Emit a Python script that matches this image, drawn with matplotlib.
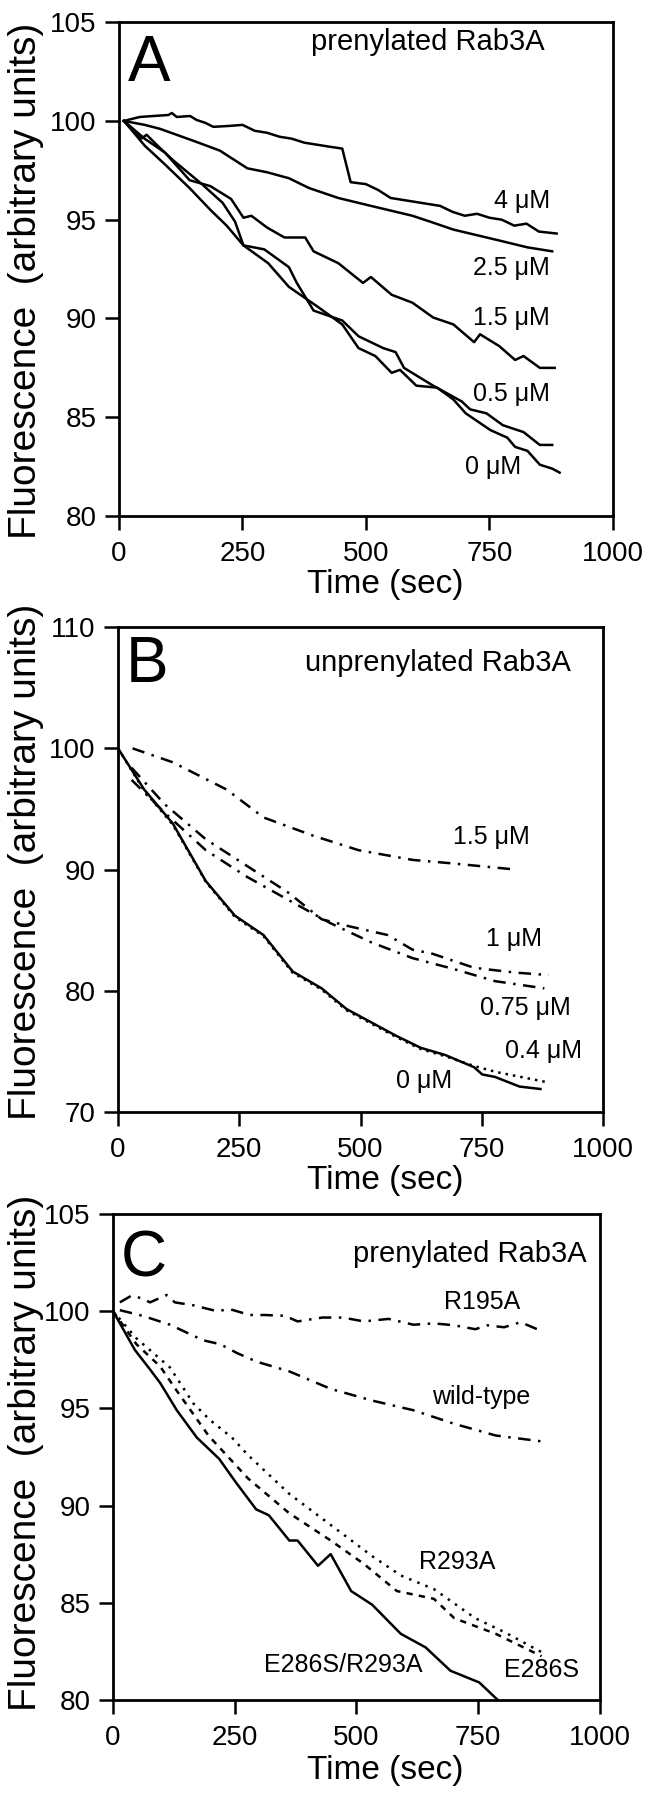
import matplotlib
matplotlib.use('Agg')
import matplotlib.pyplot as plt

plt.rcParams['font.family'] = ['Liberation Sans', 'DejaVu Sans']

# ---------------- Panel A: prenylated Rab3A ----------------
a_t_4 = [10, 42, 70, 100, 107, 117, 144, 157, 175, 191, 225, 250, 275, 300, 325, 350, 375, 400, 425, 452,
         469, 500, 525, 550, 575, 600, 625, 650, 675, 700, 725, 750, 775, 800, 825, 850, 886]
a_v_4 = [100.0, 100.2, 100.25, 100.3, 100.4, 100.2, 100.25, 100.05, 99.9, 99.7, 99.75, 99.8, 99.5, 99.4,
         99.2, 99.1, 98.9, 98.8, 98.7, 98.6, 96.9, 96.8, 96.5, 96.1, 96.0, 95.9, 95.8, 95.7, 95.4, 95.2,
         95.3, 95.1, 95.0, 94.7, 94.8, 94.4, 94.3]
a_t_25 = [10, 52, 83, 150, 204, 260, 300, 344, 385, 444, 510, 552, 594, 636, 677, 719, 761, 794, 827, 877]
a_v_25 = [100.0, 99.8, 99.6, 99.0, 98.5, 97.6, 97.4, 97.1, 96.6, 96.1, 95.7, 95.45, 95.2, 94.85, 94.5,
          94.25, 94.0, 93.8, 93.6, 93.4]
a_t_15 = [10, 52, 93, 143, 185, 227, 252, 268, 300, 335, 377, 394, 444, 494, 510, 552, 594, 636, 677,
          719, 731, 770, 802, 819, 852, 882]
a_v_15 = [100.0, 99.1, 98.4, 97.0, 96.7, 96.05, 95.1, 95.2, 94.6, 94.1, 94.1, 93.4, 92.8, 91.8, 92.1,
          91.2, 90.8, 90.05, 89.7, 88.8, 89.2, 88.6, 87.9, 88.1, 87.5, 87.5]
a_t_05 = [10, 45, 56, 80, 110, 168, 210, 235, 252, 294, 344, 360, 394, 452, 485, 535, 560, 577, 636,
          694, 711, 744, 777, 819, 852, 877]
a_v_05 = [100.0, 99.1, 99.3, 98.7, 98.0, 96.8, 95.85, 94.9, 93.7, 93.5, 92.6, 91.8, 90.4, 89.9, 89.1,
          88.5, 88.3, 87.5, 86.6, 85.8, 85.4, 85.2, 84.6, 84.25, 83.6, 83.6]
a_t_0 = [10, 52, 93, 143, 185, 218, 252, 302, 344, 402, 452, 485, 519, 552, 569, 602, 644, 677, 702,
         752, 786, 802, 827, 852, 877, 892]
a_v_0 = [100.0, 98.75, 97.8, 96.6, 95.5, 94.7, 93.7, 92.8, 91.6, 90.6, 89.7, 88.5, 88.1, 87.25, 87.4,
         86.6, 86.5, 85.9, 85.2, 84.35, 83.97, 83.5, 83.3, 82.6, 82.4, 82.2]

# ---------------- Panel B: unprenylated Rab3A ----------------
b_t_15 = [30, 113, 224, 300, 402, 496, 607, 692, 820]
b_v_15 = [100.0, 98.85, 96.6, 94.3, 92.8, 91.6, 90.8, 90.5, 90.0]
b_t_1 = [28, 96, 181, 266, 351, 420, 479, 556, 607, 649, 734, 820, 888]
b_v_1 = [98.4, 95.4, 92.5, 90.3, 88.1, 85.9, 85.3, 84.6, 83.4, 83.05, 81.9, 81.5, 81.3]
b_t_075 = [28, 96, 181, 266, 351, 437, 522, 607, 692, 777, 879]
b_v_075 = [97.4, 94.7, 91.6, 89.4, 87.5, 85.6, 84.0, 82.7, 81.8, 80.8, 80.2]
b_t_0 = [0, 54, 113, 181, 241, 300, 360, 420, 471, 522, 573, 624, 675, 734, 751, 777, 828, 871]
b_v_0 = [100.0, 96.6, 93.8, 89.05, 86.2, 84.6, 81.6, 80.2, 78.5, 77.4, 76.3, 75.3, 74.7, 73.7, 73.1,
         72.9, 72.1, 71.9]
b_t_04 = [0, 54, 113, 181, 241, 300, 360, 420, 471, 522, 573, 624, 675, 734, 780, 830, 880]
b_v_04 = [100.0, 96.5, 93.7, 89.0, 86.1, 84.5, 81.5, 80.1, 78.4, 77.3, 76.2, 75.2, 74.6, 73.8, 73.3,
          72.9, 72.5]

# ---------------- Panel C: mutants ----------------
c_t_r195 = [14, 38, 60, 76, 110, 127, 165, 213, 240, 281, 311, 353, 379, 430, 472, 515, 566, 617, 659,
            701, 744, 769, 803, 837, 871]
c_v_r195 = [100.45, 100.8, 100.65, 100.45, 100.83, 100.45, 100.3, 100.0, 100.1, 99.8, 99.8, 99.76, 99.47,
            99.67, 99.67, 99.47, 99.6, 99.3, 99.37, 99.27, 99.07, 99.27, 99.17, 99.43, 99.07]
c_t_wt = [14, 62, 117, 185, 220, 254, 295, 362, 447, 532, 617, 701, 744, 786, 880]
c_v_wt = [100.05, 99.75, 99.3, 98.5, 98.3, 97.85, 97.4, 96.9, 96.0, 95.4, 94.9, 94.2, 93.9, 93.6, 93.3]
c_t_r293 = [0, 48, 117, 165, 199, 244, 277, 362, 447, 532, 591, 659, 744, 803, 888]
c_v_r293 = [100.0, 98.6, 97.1, 95.25, 94.4, 93.5, 92.6, 90.6, 89.0, 87.4, 86.4, 85.7, 84.2, 83.5, 82.35]
c_t_e286 = [0, 48, 97, 131, 165, 196, 277, 362, 447, 515, 583, 659, 701, 786, 880]
c_v_e286 = [100.0, 98.3, 97.15, 95.9, 94.7, 93.6, 91.4, 89.6, 88.2, 87.0, 85.6, 85.2, 84.2, 83.4, 82.25]
c_t_dbl = [0, 45, 76, 97, 131, 172, 218, 252, 294, 320, 362, 379, 421, 447, 489, 532, 591, 642, 693,
           752, 790]
c_v_dbl = [100.0, 98.0, 97.0, 96.3, 94.9, 93.5, 92.4, 91.2, 89.8, 89.5, 88.2, 88.2, 86.9, 87.5, 85.6,
           84.9, 83.4, 82.7, 81.5, 80.9, 80.0]

x_ticks = [0, 250, 500, 750, 1000]

fig = plt.figure(figsize=(6.48, 18), dpi=100)

def style_axes(ax, ylim, yticks):
    ax.set_xlim(0, 1000)
    ax.set_ylim(*ylim)
    ax.set_xticks(x_ticks)
    ax.set_yticks(yticks)
    for s in ax.spines.values():
        s.set_linewidth(2.0)
    ax.tick_params(direction='out', length=10, width=1.8, labelsize=20)
    ax.tick_params(axis='x', pad=8)
    ax.tick_params(axis='y', pad=6)

lw = 1.8
dashdot = (0, (5, 3, 1, 3))

# Panel A
axA = fig.add_axes([0.1836, 0.7133, 0.7623, 0.2744])
style_axes(axA, (80, 105), [80, 85, 90, 95, 100, 105])
axA.plot(a_t_4, a_v_4, color='black', lw=lw)
axA.plot(a_t_25, a_v_25, color='black', lw=lw)
axA.plot(a_t_15, a_v_15, color='black', lw=lw)
axA.plot(a_t_05, a_v_05, color='black', lw=lw)
axA.plot(a_t_0, a_v_0, color='black', lw=lw)
axA.text(18, 102.0, 'A', fontsize=46, ha='left', va='baseline')
axA.text(862, 104.0, 'prenylated Rab3A', fontsize=21, ha='right', va='center')
axA.text(873, 95.95, '4 \u03bcM', fontsize=18, ha='right', va='center')
axA.text(873, 92.57, '2.5 \u03bcM', fontsize=18, ha='right', va='center')
axA.text(873, 90.05, '1.5 \u03bcM', fontsize=18, ha='right', va='center')
axA.text(873, 86.2, '0.5 \u03bcM', fontsize=18, ha='right', va='center')
axA.text(815, 82.5, '0 \u03bcM', fontsize=18, ha='right', va='center')

# Panel B
axB = fig.add_axes([0.1821, 0.3822, 0.7485, 0.2694])
style_axes(axB, (70, 110), [70, 80, 90, 100, 110])
axB.plot(b_t_0, b_v_0, color='black', lw=lw)
axB.plot(b_t_04, b_v_04, color='black', lw=lw, linestyle=(0, (1, 2)))
axB.plot(b_t_075, b_v_075, color='black', lw=lw, linestyle=dashdot)
axB.plot(b_t_1, b_v_1, color='black', lw=lw, linestyle=dashdot)
axB.plot(b_t_15, b_v_15, color='black', lw=lw, linestyle=dashdot)
axB.text(16, 105.5, 'B', fontsize=46, ha='left', va='baseline')
axB.text(934, 107.06, 'unprenylated Rab3A', fontsize=21, ha='right', va='center')
axB.text(849, 92.7, '1.5 \u03bcM', fontsize=18, ha='right', va='center')
axB.text(875, 84.3, '1 \u03bcM', fontsize=18, ha='right', va='center')
axB.text(934, 78.6, '0.75 \u03bcM', fontsize=18, ha='right', va='center')
axB.text(956, 75.0, '0.4 \u03bcM', fontsize=18, ha='right', va='center')
axB.text(630, 72.6, '0 \u03bcM', fontsize=18, ha='center', va='center')

# Panel C
axC = fig.add_axes([0.1744, 0.0556, 0.7515, 0.27])
style_axes(axC, (80, 105), [80, 85, 90, 95, 100, 105])
axC.plot(c_t_r195, c_v_r195, color='black', lw=lw, linestyle=dashdot)
axC.plot(c_t_wt, c_v_wt, color='black', lw=lw, linestyle=dashdot)
axC.plot(c_t_r293, c_v_r293, color='black', lw=lw, linestyle=(0, (1, 2.5)))
axC.plot(c_t_e286, c_v_e286, color='black', lw=lw, linestyle=(0, (2.5, 2.5)))
axC.plot(c_t_dbl, c_v_dbl, color='black', lw=lw)
axC.text(16, 101.8, 'C', fontsize=46, ha='left', va='baseline')
axC.text(973, 102.95, 'prenylated Rab3A', fontsize=21, ha='right', va='center')
axC.text(758, 100.46, 'R195A', fontsize=18, ha='center', va='center')
axC.text(756, 95.6, 'wild-type', fontsize=18, ha='center', va='center')
axC.text(707, 87.1, 'R293A', fontsize=18, ha='center', va='center')
axC.text(473, 81.8, 'E286S/R293A', fontsize=18, ha='center', va='center')
axC.text(880, 81.55, 'E286S', fontsize=18, ha='center', va='center')

# axis titles placed in figure coordinates
for yc in [1 - 584 / 1800, 1 - 1180 / 1800, 1 - 1770 / 1800]:
    fig.text(0.594, yc, 'Time (sec)', fontsize=24, ha='center', va='center')
for yc in [1 - 281 / 1800, 1 - 862 / 1800, 1 - 1453 / 1800]:
    fig.text(0.040, yc, 'Fluorescence  (arbitrary units)', fontsize=28, rotation=90,
             ha='center', va='center')

fig.savefig('out.png', dpi=100, facecolor='white')
